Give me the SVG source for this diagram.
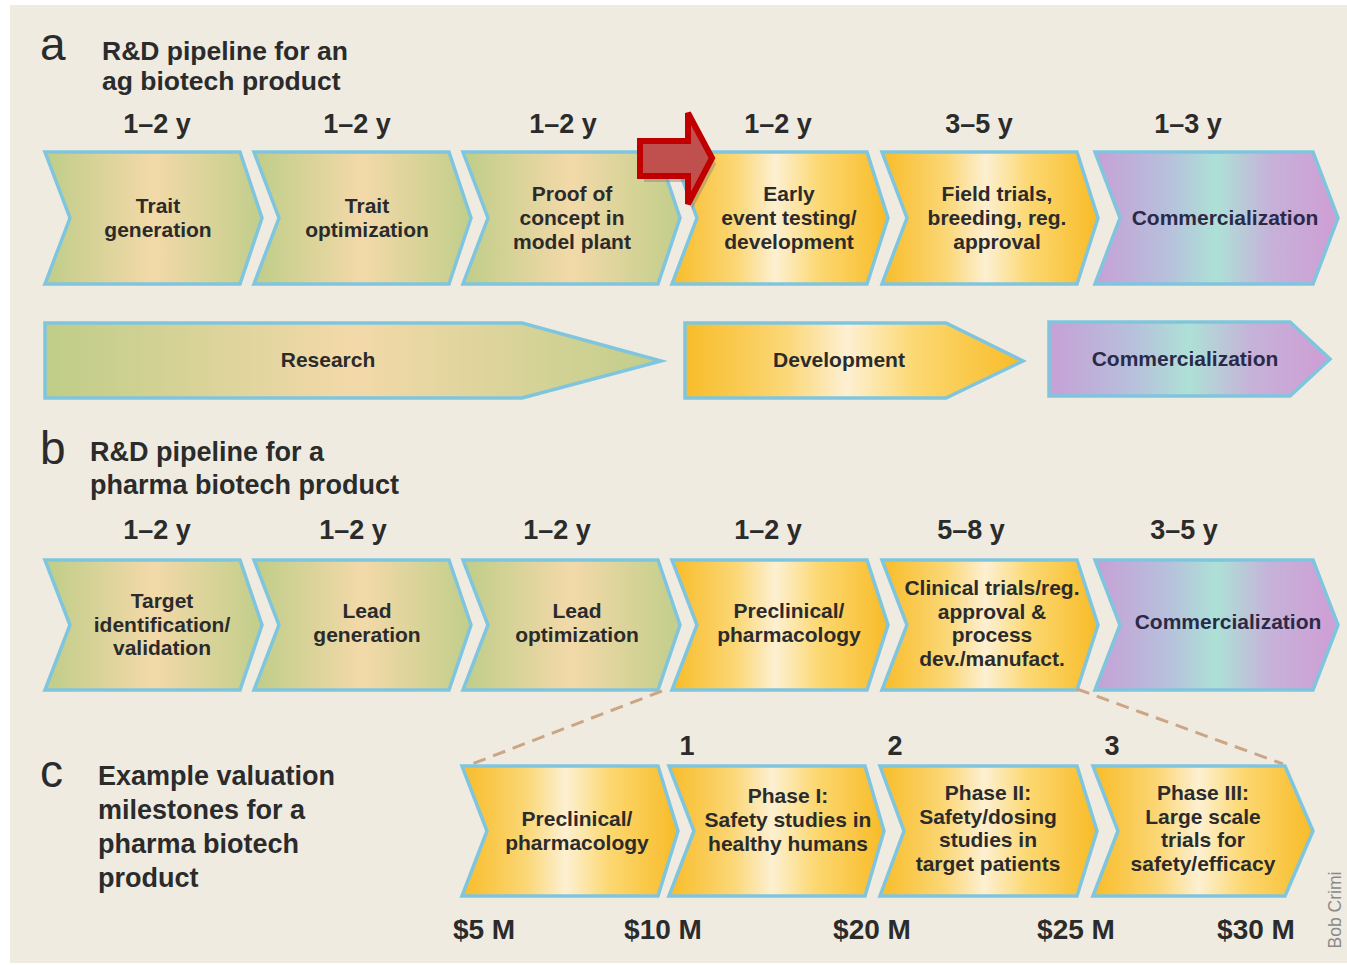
<svg xmlns="http://www.w3.org/2000/svg" width="1347" height="965" viewBox="0 0 1347 965">
  <style>
    .t { font-family: "Liberation Sans", Arial, sans-serif; font-weight: 700; fill: #2b2b2b; text-anchor: middle; }
    .lbl { font-size: 21px; }
    .yr { font-size: 27px; }
    .head { font-family: "Liberation Sans", Arial, sans-serif; font-weight: 700; font-size: 27px; fill: #2b2b2b; }
    .letter { font-family: "Liberation Sans", Arial, sans-serif; font-weight: 400; font-size: 46px; fill: #2b2b2b; }
    .cm { fill: #2a2a48; }
    .chev { stroke: #80c5de; stroke-width: 3.5; stroke-linejoin: miter; }
    .g { fill: url(#green); }
    .o { fill: url(#orange); }
    .p { fill: url(#purple); }
    .dash { fill: none; stroke: #cba685; stroke-width: 3; stroke-dasharray: 13 8; }
  </style>
  <defs>
    <linearGradient id="green" x1="0" y1="0" x2="1" y2="0">
      <stop offset="0" stop-color="#bfcd88"/>
      <stop offset="0.5" stop-color="#f3d9a9"/>
      <stop offset="1" stop-color="#c1ce8a"/>
    </linearGradient>
    <linearGradient id="orange" x1="0" y1="0" x2="1" y2="0">
      <stop offset="0" stop-color="#f8bc28"/>
      <stop offset="0.3" stop-color="#fbd777"/>
      <stop offset="0.48" stop-color="#fdf0d2"/>
      <stop offset="0.68" stop-color="#fcd872"/>
      <stop offset="1" stop-color="#f8bb26"/>
    </linearGradient>
    <linearGradient id="purple" x1="0" y1="0" x2="1" y2="0">
      <stop offset="0" stop-color="#c6a0d6"/>
      <stop offset="0.3" stop-color="#b7c0dc"/>
      <stop offset="0.5" stop-color="#ade1d6"/>
      <stop offset="0.72" stop-color="#c6b2d9"/>
      <stop offset="1" stop-color="#cf9dd4"/>
    </linearGradient>
  </defs>

  <!-- page -->
  <rect x="0" y="0" width="1347" height="965" fill="#ffffff"/>
  <rect x="10" y="5" width="1337" height="958" fill="#efebe1"/>

  <!-- panel a headings -->
  <g id="heading-a">
    <text class="letter" x="40" y="60">a</text>
    <text class="head" x="102" y="60" style="font-size:26.5px">R&amp;D pipeline for an</text>
    <text class="head" x="102" y="90" style="font-size:26.5px">ag biotech product</text>
  </g>
  <g id="years-a" class="t yr">
    <text x="157" y="133">1–2 y</text>
    <text x="357" y="133">1–2 y</text>
    <text x="563" y="133">1–2 y</text>
    <text x="778" y="133">1–2 y</text>
    <text x="979" y="133">3–5 y</text>
    <text x="1188" y="133">1–3 y</text>
  </g>

  <!-- panel a: stage chevrons -->
  <g id="a-trait-generation">
    <polygon class="chev g" points="45,152 240,152 262,218 240,284 45,284 70,218"/>
    <text class="t lbl"><tspan x="158" y="213">Trait</tspan><tspan x="158" y="237">generation</tspan></text>
  </g>
  <g id="a-trait-optimization">
    <polygon class="chev g" points="254,152 449,152 471,218 449,284 254,284 279,218"/>
    <text class="t lbl"><tspan x="367" y="213">Trait</tspan><tspan x="367" y="237">optimization</tspan></text>
  </g>
  <g id="a-proof-of-concept">
    <polygon class="chev g" points="463,152 658,152 680,218 658,284 463,284 488,218"/>
    <text class="t lbl"><tspan x="572" y="201">Proof of</tspan><tspan x="572" y="225">concept in</tspan><tspan x="572" y="249">model plant</tspan></text>
  </g>
  <g id="a-early-event-testing">
    <polygon class="chev o" points="672,152 867,152 888,218 867,284 672,284 697,218"/>
    <text class="t lbl"><tspan x="789" y="201">Early</tspan><tspan x="789" y="225">event testing/</tspan><tspan x="789" y="249">development</tspan></text>
  </g>
  <g id="a-field-trials">
    <polygon class="chev o" points="882,152 1077,152 1098,218 1077,284 882,284 907,218"/>
    <text class="t lbl"><tspan x="997" y="201">Field trials,</tspan><tspan x="997" y="225">breeding, reg.</tspan><tspan x="997" y="249">approval</tspan></text>
  </g>
  <g id="a-commercialization">
    <polygon class="chev p" points="1095,152 1313,152 1338,218 1313,284 1095,284 1120,218"/>
    <text class="t lbl cm" x="1225" y="225">Commercialization</text>
  </g>

  <!-- red marker arrow -->
  <g id="marker-arrow">
    <polygon points="644,146 692,146 692,118 716,164 692,210 692,182 644,182" fill="#8a7f7a" opacity="0.45"/>
    <polygon points="640,141 688,141 688,113 712,158 688,204 688,176 640,176" fill="#c0504d" stroke="#c00000" stroke-width="6" stroke-linejoin="miter"/>
  </g>

  <!-- panel a: phase arrows -->
  <g id="a-research">
    <polygon class="chev g" points="45,323 522,323 661,361 522,398 45,398"/>
    <text class="t lbl" x="328" y="367">Research</text>
  </g>
  <g id="a-development">
    <polygon class="chev o" points="685,323 946,323 1023,361 946,398 685,398"/>
    <text class="t lbl" x="839" y="367">Development</text>
  </g>
  <g id="a-commercialization-phase">
    <polygon class="chev p" points="1049,322 1290,322 1330,359 1290,396 1049,396"/>
    <text class="t lbl cm" x="1185" y="366">Commercialization</text>
  </g>

  <!-- panel b -->
  <g id="heading-b">
    <text class="letter" x="40" y="464">b</text>
    <text class="head" x="90" y="461">R&amp;D pipeline for a</text>
    <text class="head" x="90" y="494">pharma biotech product</text>
  </g>
  <g id="years-b" class="t yr">
    <text x="157" y="539">1–2 y</text>
    <text x="353" y="539">1–2 y</text>
    <text x="557" y="539">1–2 y</text>
    <text x="768" y="539">1–2 y</text>
    <text x="971" y="539">5–8 y</text>
    <text x="1184" y="539">3–5 y</text>
  </g>

  <g id="b-target-identification">
    <polygon class="chev g" points="45,560 240,560 262,625 240,690 45,690 70,625"/>
    <text class="t lbl"><tspan x="162" y="608">Target</tspan><tspan x="162" y="631.5">identification/</tspan><tspan x="162" y="655">validation</tspan></text>
  </g>
  <g id="b-lead-generation">
    <polygon class="chev g" points="254,560 449,560 471,625 449,690 254,690 279,625"/>
    <text class="t lbl"><tspan x="367" y="618">Lead</tspan><tspan x="367" y="642">generation</tspan></text>
  </g>
  <g id="b-lead-optimization">
    <polygon class="chev g" points="463,560 658,560 680,625 658,690 463,690 488,625"/>
    <text class="t lbl"><tspan x="577" y="618">Lead</tspan><tspan x="577" y="642">optimization</tspan></text>
  </g>
  <g id="b-preclinical">
    <polygon class="chev o" points="672,560 867,560 888,625 867,690 672,690 697,625"/>
    <text class="t lbl"><tspan x="789" y="618">Preclinical/</tspan><tspan x="789" y="642">pharmacology</tspan></text>
  </g>
  <g id="b-clinical-trials">
    <polygon class="chev o" points="882,560 1077,560 1098,625 1077,690 882,690 907,625"/>
    <text class="t lbl"><tspan x="992" y="595">Clinical trials/reg.</tspan><tspan x="992" y="618.5">approval &amp;</tspan><tspan x="992" y="642">process</tspan><tspan x="992" y="665.5">dev./manufact.</tspan></text>
  </g>
  <g id="b-commercialization">
    <polygon class="chev p" points="1095,560 1313,560 1338,625 1313,690 1095,690 1120,625"/>
    <text class="t lbl cm" x="1228" y="629">Commercialization</text>
  </g>

  <!-- expansion of the clinical stages into panel c -->
  <g id="connectors">
    <line class="dash" x1="662" y1="691" x2="472" y2="764"/>
    <line class="dash" x1="1077" y1="689" x2="1283" y2="764"/>
  </g>

  <!-- panel c -->
  <g id="heading-c">
    <text class="letter" x="40" y="787">c</text>
    <text class="head" x="98" y="785">Example valuation</text>
    <text class="head" x="98" y="819">milestones for a</text>
    <text class="head" x="98" y="853">pharma biotech</text>
    <text class="head" x="98" y="887">product</text>
  </g>
  <g id="milestone-numbers" class="t yr">
    <text x="687" y="755">1</text>
    <text x="895" y="755">2</text>
    <text x="1112" y="755">3</text>
  </g>

  <g id="c-preclinical">
    <polygon class="chev o" points="462,766 658,766 678,831 658,896 462,896 487,831"/>
    <text class="t lbl"><tspan x="577" y="826">Preclinical/</tspan><tspan x="577" y="850">pharmacology</tspan></text>
  </g>
  <g id="c-phase-1">
    <polygon class="chev o" points="669,766 865,766 884,831 865,896 669,896 694,831"/>
    <text class="t lbl"><tspan x="788" y="803">Phase I:</tspan><tspan x="788" y="827">Safety studies in</tspan><tspan x="788" y="851">healthy humans</tspan></text>
  </g>
  <g id="c-phase-2">
    <polygon class="chev o" points="880,766 1077,766 1097,831 1077,896 880,896 904,831"/>
    <text class="t lbl"><tspan x="988" y="800">Phase II:</tspan><tspan x="988" y="823.5">Safety/dosing</tspan><tspan x="988" y="847">studies in</tspan><tspan x="988" y="870.5">target patients</tspan></text>
  </g>
  <g id="c-phase-3">
    <polygon class="chev o" points="1093,766 1285,766 1313,831 1285,896 1093,896 1118,831"/>
    <text class="t lbl"><tspan x="1203" y="800">Phase III:</tspan><tspan x="1203" y="823.5">Large scale</tspan><tspan x="1203" y="847">trials for</tspan><tspan x="1203" y="870.5">safety/efficacy</tspan></text>
  </g>

  <g id="valuations" class="t" style="font-size:28px">
    <text x="484" y="939">$5 M</text>
    <text x="663" y="939">$10 M</text>
    <text x="872" y="939">$20 M</text>
    <text x="1076" y="939">$25 M</text>
    <text x="1256" y="939">$30 M</text>
  </g>

  <text id="credit" transform="translate(1341,910) rotate(-90)" text-anchor="middle" font-family="'Liberation Sans', Arial, sans-serif" font-size="17.5" fill="#8a8a8a">Bob Crimi</text>
</svg>
